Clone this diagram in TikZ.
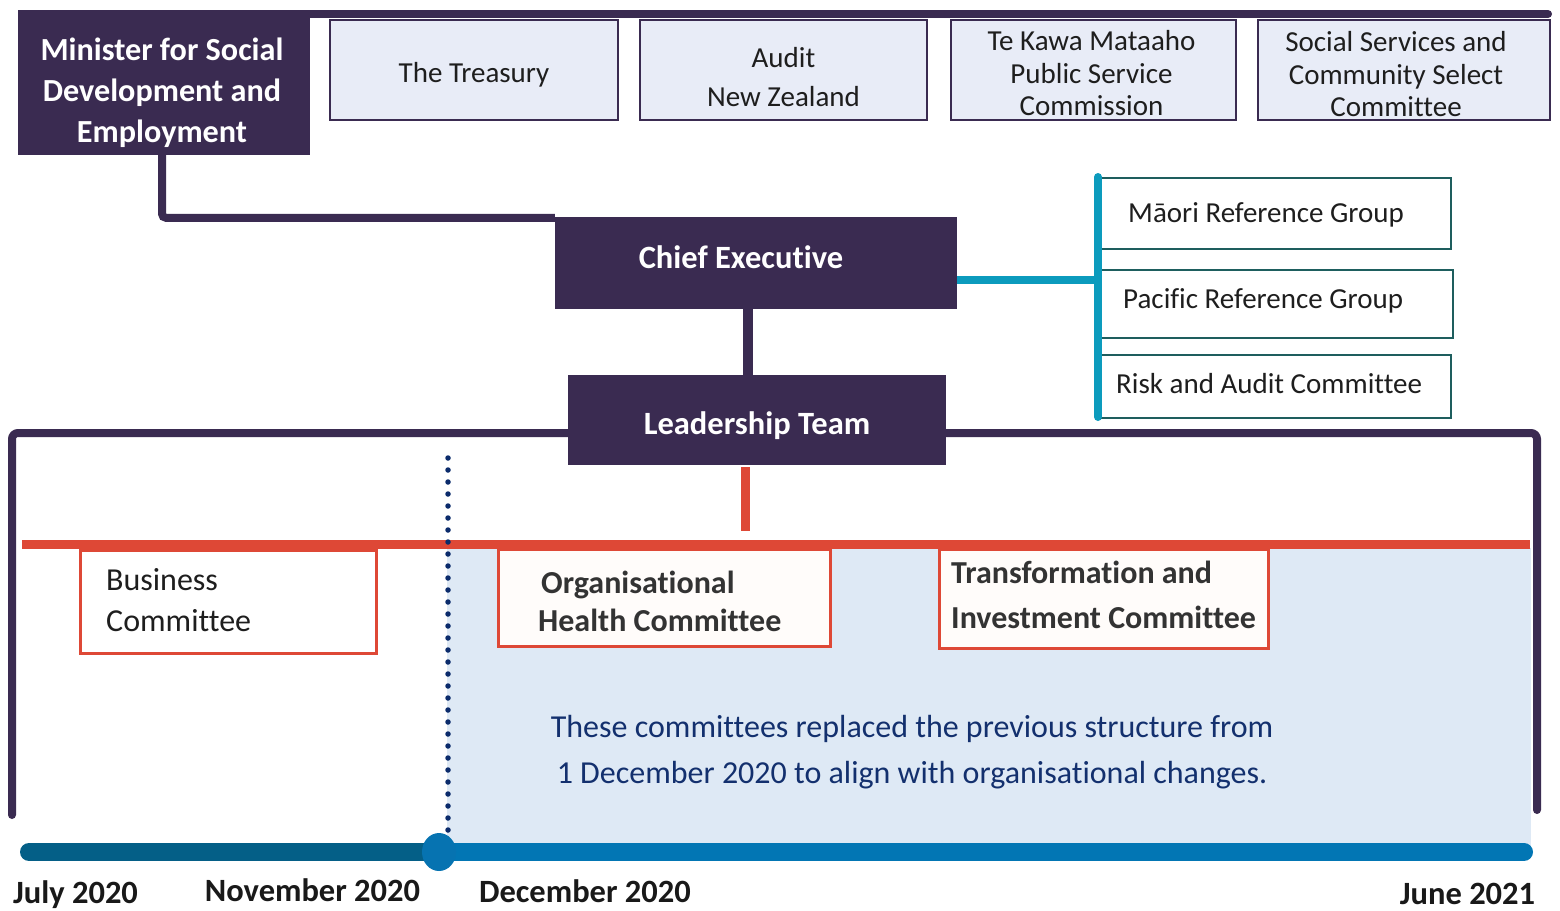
\documentclass[tikz,border=0pt]{standalone}
\usepackage{fontspec}
\setmainfont{Carlito}[Ligatures={NoCommon}]
\usetikzlibrary{shapes.geometric}
\definecolor{dpurple}{HTML}{3A2B51}
\definecolor{lboxc}{HTML}{E8ECF7}
\definecolor{tealln}{HTML}{0C9BBD}
\definecolor{tealbx}{HTML}{1E5E5E}
\definecolor{redc}{HTML}{DE4836}
\definecolor{lblue}{HTML}{DEE9F5}
\definecolor{dotc}{HTML}{0B2B6B}
\definecolor{notec}{HTML}{13306E}
\definecolor{tlleft}{HTML}{045F87}
\definecolor{tlright}{HTML}{0276B4}
\definecolor{circc}{HTML}{0673B1}
\definecolor{comtxt}{HTML}{333333}
\definecolor{txt}{HTML}{1E1E1E}
\begin{document}
\begin{tikzpicture}[x=1pt,y=-1pt,
  darkbox/.style={fill=dpurple, inner sep=0pt},
  whitetxt/.style={text=white, inner sep=0pt, align=center,
     font=\bfseries\fontsize{32.2}{41}\selectfont},
  lightbox/.style={fill=lboxc, draw=dpurple, line width=2pt, inner sep=0pt, minimum height=100pt},
  lighttxt/.style={text=txt, inner sep=0pt, align=center, font=\fontsize{29}{32.5}\selectfont},
  refbox/.style={draw=tealbx, line width=2pt, fill=white, inner sep=0pt, anchor=north west},
  reftext/.style={anchor=west, text=txt, inner sep=0pt, font=\fontsize{29}{34}\selectfont},
  combox/.style={draw=redc, line width=3pt, fill=white, inner sep=0pt, anchor=north west},
  comtext/.style={anchor=west, align=left, inner sep=0pt, text=comtxt},
  frameln/.style={draw=dpurple, line width=8pt, line cap=round, rounded corners=6pt},
  tealline/.style={draw=tealln, line width=8pt},
  redline/.style={draw=redc, line width=9pt},
  dotline/.style={draw=dotc, line width=5.5pt, line cap=round, dash pattern=on 0pt off 12pt},
  datelbl/.style={text=black!90, inner sep=0pt, font=\bfseries\fontsize{32.5}{36}\selectfont}
]
\useasboundingbox (0,0) rectangle (1560,910);

% light blue region
\fill[lblue] (447,548) rectangle (1531,852);

% top frame line
\coordinate (topL) at (22,14);
\coordinate (topR) at (1548,14);
\draw[frameln] (topL) -- (topR);

% minister
\node[darkbox, minimum width=292pt, minimum height=145pt] (minister) at (164,82.5) {};
\node[whitetxt] (ministertxt) at ([xshift=-2pt,yshift=-10pt]minister.center)
  {Minister for Social\\Development and\\Employment};

% top boxes
\node[lightbox, minimum width=288pt] (treasury) at (474,70) {};
\node[lighttxt] (treasurytxt) at ([yshift=-5pt]treasury.center) {The Treasury};
\node[lightbox, minimum width=287pt] (audit) at (783.5,70) {};
\node[lighttxt, font=\fontsize{29}{39}\selectfont] (audittxt) at ([yshift=-7pt]audit.center) {Audit\\New Zealand};
\node[lightbox, minimum width=285pt] (tekawa) at (1093.5,70) {};
\node[lighttxt] (tekawatxt) at ([xshift=-2pt,yshift=-3.5pt]tekawa.center) {Te Kawa Mataaho\\Public Service\\Commission};
\node[lightbox, minimum width=292pt] (ssc) at (1404,70) {};
\node[lighttxt] (ssctxt) at ([xshift=-8pt,yshift=-4.5pt]ssc.center) {Social Services and\\Community Select\\Committee};

% chief executive and leadership team
\node[darkbox, minimum width=402pt, minimum height=92pt] (ce) at (756,263) {};
\node[whitetxt, font=\bfseries\fontsize{32.5}{38}\selectfont] (cetxt) at ([xshift=-15pt,yshift=6pt]ce.center) {Chief Executive};
\node[darkbox, minimum width=378pt, minimum height=90pt] (lt) at (757,420) {};
\node[whitetxt, font=\bfseries\fontsize{32.5}{38}\selectfont] (lttxt) at ([yshift=-6pt]lt.center) {Leadership Team};

% minister -> CE
\draw[frameln, line cap=butt, rounded corners=4pt] ([xshift=-2pt]minister.south) |- ([yshift=-1pt]ce.north west);
% CE -> LT
\draw[draw=dpurple, line width=10pt] ([xshift=-8pt]ce.south) -- ([xshift=-8pt]ce.south |- lt.north);

% reference groups
\node[refbox, minimum width=350pt, minimum height=71pt] (maori) at (1100,177) {};
\node[reftext] (maoritxt) at ([xshift=28pt,yshift=-1pt]maori.west) {Māori Reference Group};
\node[refbox, minimum width=352pt, minimum height=68pt] (pacific) at (1100,269) {};
\node[reftext] (pacifictxt) at ([xshift=23pt,yshift=3pt]pacific.west) {Pacific Reference Group};
\node[refbox, minimum width=350pt, minimum height=63pt] (risk) at (1100,354) {};
\node[reftext] (risktxt) at ([xshift=16pt,yshift=3pt]risk.west) {Risk and Audit Committee};

% teal connectors
\coordinate (ttop) at (1098,177);
\coordinate (tbot) at (1098,417);
\coordinate (tmid) at (1098,280);
\draw[tealline] ([yshift=-17pt]ce.east) -- (tmid);
\draw[tealline, line cap=round] (ttop) -- (tbot);

% committee frame
\coordinate (fbl) at (12,815);
\coordinate (fbr) at (1537,810);
\draw[frameln] (fbl) -- (12,433) -- (lt.west |- 12,433);
\draw[frameln] (lt.east |- 12,433) -- (1537,433) -- (fbr);

% red lines
\coordinate (rl) at (22,544);
\coordinate (rr) at (1530,544);
\draw[redline] ([xshift=-12pt,yshift=-2pt]lt.south) -- ++(0,64);
\draw[redline] (rl) -- (rr);

% committees
\node[combox, minimum width=296pt, minimum height=103pt] (biz) at (79,549) {};
\node[comtext, text=txt, font=\fontsize{32}{41}\selectfont] (biztxt) at ([xshift=27pt,yshift=2pt]biz.west) {Business\\Committee};
\node[combox, fill=white!98!orange, minimum width=332pt, minimum height=97pt] (org) at (497,548) {};
\node[comtext, font=\bfseries\fontsize{32}{38}\selectfont] (orgtxt) at ([xshift=41pt,yshift=-3pt]org.west)
  {\hspace{3pt}Organisational\\Health Committee};
\node[combox, fill=white!98!orange, minimum width=329pt, minimum height=99pt] (tic) at (938,548) {};
\node[comtext, font=\bfseries\fontsize{32}{45}\selectfont] (tictxt) at ([xshift=13pt,yshift=4pt]tic.west)
  {Transformation and\\Investment Committee};

% note
\node[align=center, inner sep=0pt, text=notec, font=\fontsize{32}{46}\selectfont] (note) at (912,752)
  {These committees replaced the previous structure from\\1 December 2020 to align with organisational changes.};

% dotted line
\coordinate (dtop) at (448,458);
\coordinate (dbot) at (448,836);
\draw[dotline] (dtop) -- (dbot);

% timeline
\coordinate (tl0) at (29,852);
\coordinate (tl1) at (1524,852);
\coordinate (novc) at (439,852);
\draw[draw=tlleft, line width=18pt, line cap=round] (tl0) -- (novc);
\draw[draw=tlright, line width=18pt, line cap=round] (novc) -- (tl1);
\node[ellipse, fill=circc, minimum width=34pt, minimum height=38pt, inner sep=0pt] (nov) at (novc) {};

% dates
\node[datelbl] (d1) at (75.5,895) {July 2020};
\node[datelbl] (d2) at (312.5,890) {November 2020};
\node[datelbl] (d3) at (585,891) {December 2020};
\node[datelbl] (d4) at (1467.5,894) {June 2021};
\end{tikzpicture}
\end{document}
